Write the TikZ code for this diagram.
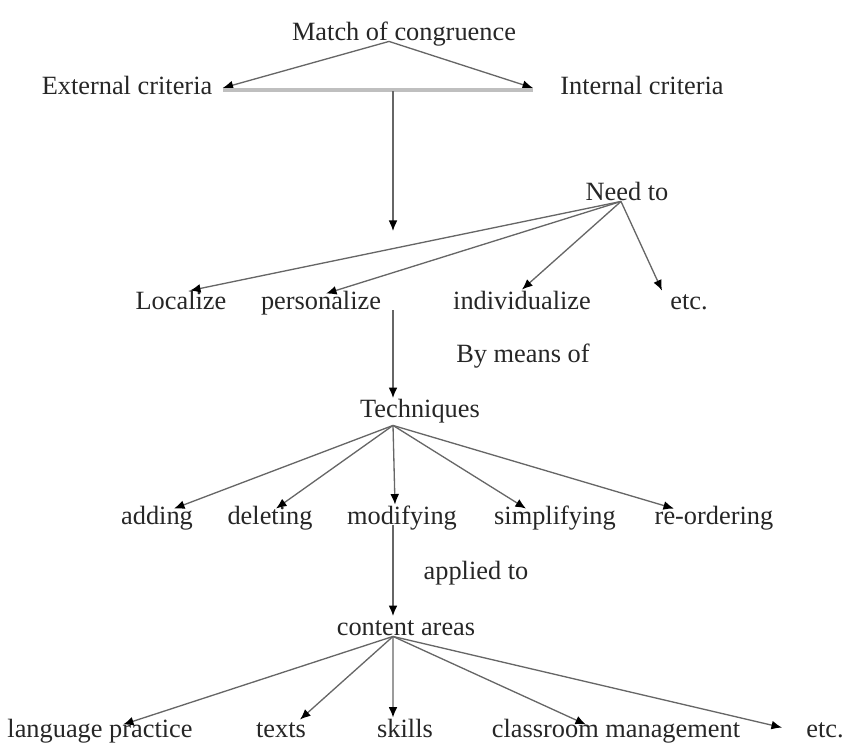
\documentclass[tikz,border=0pt]{standalone}
\usepackage{fontspec}
\setmainfont{Liberation Serif}
\usetikzlibrary{arrows.meta}
\begin{document}
\begin{tikzpicture}[x=0.02cm, y=-0.02cm, font=\fontsize{15}{18}\selectfont,
  every node/.style={inner sep=0pt, text height=0.89em, text depth=0.03em, text=black!85},
  arr/.style={draw=black!60, line width=0.75pt, -{Latex[length=6pt,width=5pt,color=black]}},
  bar/.style={draw=black!25, line width=2.6pt}]
  \useasboundingbox (0,0) rectangle (846,744);
  % 第一层
  \node (match) at (404,33) {Match of congruence};
  \node (ext) at (127,87) {External criteria};
  \node (int) at (642,87) {Internal criteria};
  \coordinate (exttip) at ([xshift=0.2cm,yshift=-0.02cm]ext.east);
  \coordinate (inttip) at ([xshift=-0.54cm,yshift=-0.02cm]int.west);
  \draw[arr] ([xshift=-0.3cm]match.south) -- (exttip);
  \draw[arr] ([xshift=-0.3cm]match.south) -- (inttip);
  % 横杠与竖线
  \draw[bar] ([yshift=-0.04cm]exttip) -- ([yshift=-0.04cm]inttip);
  \coordinate (gapend) at (393,231);
  \draw[arr] ([yshift=-0.06cm]exttip -| gapend) -- (gapend);
  % Need to
  \node (need) at (627,193) {Need to};
  \node (loc) at (181,302) {Localize};
  \node (pers) at (321,302) {personalize};
  \node (indiv) at (522,302) {individualize};
  \node (etca) at (689,302) {etc.};
  \coordinate (needfoot) at ([xshift=-0.12cm]need.south);
  \draw[arr] (needfoot) -- ([xshift=0.18cm,yshift=0.06cm]loc.north);
  \draw[arr] (needfoot) -- ([xshift=0.1cm]pers.north);
  \draw[arr] (needfoot) -- ([yshift=0.08cm]indiv.north);
  \draw[arr] (needfoot) -- ([xshift=-0.54cm,yshift=0.06cm]etca.north);
  \node (means) at (523,355) {By means of};
  % Techniques
  \node (tech) at (420,410) {Techniques};
  \coordinate (techfoot) at ([xshift=-0.54cm,yshift=-0.14cm]tech.south);
  \draw[arr, shorten >=2pt] (pers.south -| techfoot) -- (tech.north -| techfoot);
  \node (add) at (157,517) {adding};
  \node (del) at (270,517) {deleting};
  \node (mod) at (402,517) {modifying};
  \node (simp) at (555,517) {simplifying};
  \node (reord) at (714,517) {re-ordering};
  \draw[arr] (techfoot) -- ([xshift=0.34cm]add.north);
  \draw[arr] (techfoot) -- ([xshift=0.12cm]del.north);
  \draw[arr] (techfoot) -- ([xshift=-0.14cm,yshift=0.08cm]mod.north);
  \draw[arr] (techfoot) -- ([xshift=-0.58cm]simp.north);
  \draw[arr] (techfoot) -- ([xshift=-0.8cm]reord.north);
  \node (applied) at (476,572) {applied to};
  % content areas
  \node (cont) at (406,628) {content areas};
  \draw[arr, shorten >=2pt] (mod.south -| techfoot) -- (cont.north -| techfoot);
  \coordinate (contfoot) at ([xshift=-0.26cm]cont.south);
  \node (lang) at (100,730) {language practice};
  \node (texts) at (281,730) {texts};
  \node (skills) at (405,730) {skills};
  \node (class) at (616,730) {classroom management};
  \node (etcb) at (825,730) {etc.};
  \draw[arr] (contfoot) -- ([xshift=0.46cm,yshift=-0.06cm]lang.north);
  \draw[arr] (contfoot) -- ([xshift=0.38cm,yshift=0.04cm]texts.north);
  \draw[arr] (contfoot) -- ([xshift=-0.24cm,yshift=0.08cm]skills.north);
  \draw[arr] (contfoot) -- ([xshift=-0.6cm,yshift=-0.06cm]class.north);
  \draw[arr] (contfoot) -- ([xshift=-0.86cm,yshift=-0.12cm]etcb.north);
\end{tikzpicture}
\end{document}
